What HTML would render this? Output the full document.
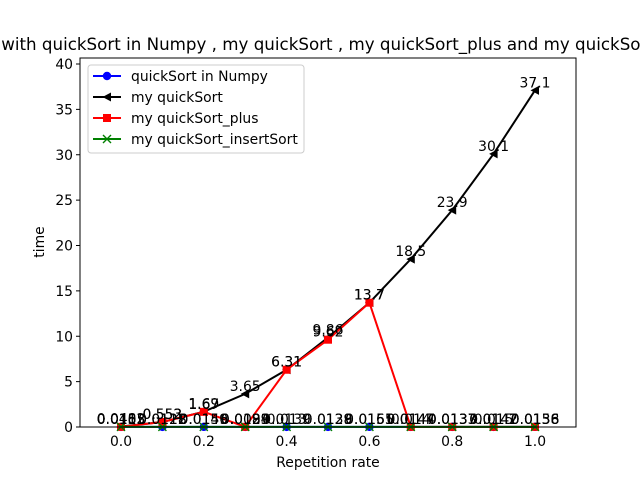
<!DOCTYPE html>
<html><head><meta charset="utf-8"><style>
body{margin:0;background:#fff;}
svg{display:block;font-family:"DejaVu Sans","Liberation Sans",sans-serif;}
</style></head><body>
<svg id="chart" width="640" height="480" viewBox="0 0 640 480" xmlns="http://www.w3.org/2000/svg">
<rect x="0" y="0" width="640" height="480" fill="#fff"/>
<text x="320" y="50" font-size="16.7" text-anchor="middle">Comparison with quickSort in Numpy , my quickSort , my quickSort_plus and my quickSort_insertSort</text>
<g id="plot"></g>
<rect x="80" y="58" width="496" height="369" fill="none" stroke="#000" stroke-width="1"/>
<text x="328" y="467" font-size="13.9" text-anchor="middle">Repetition rate</text>
<text x="0" y="0" font-size="13.9" text-anchor="middle" transform="translate(44,242) rotate(-90)">time</text>
<g>
<rect x="88" y="65" width="216" height="88" rx="3" fill="#fff" fill-opacity="0.8" stroke="#ccc"/>
<g id="legend-items"></g>
</g>
</svg>
<script>
const xs = [0.0,0.1,0.2,0.3,0.4,0.5,0.6,0.7,0.8,0.9,1.0];
const numpyVals = [0.0103,0.0112,0.0156,0.0099,0.0139,0.0129,0.0165,0.0144,0.0137,0.0142,0.0156];
const quickVals = [0.0482,0.552,1.69,3.65,6.31,9.86,13.7,18.5,23.9,30.1,37.1];
const plusVals = [0.0153,0.553,1.67,0.0184,6.31,9.62,13.7,0.0147,0.0137,0.0147,0.0136];
const insertVals = [0.0115,0.0128,0.0149,0.0123,0.0130,0.0138,0.0151,0.0140,0.0133,0.0150,0.0138];
const xTicks = [0.0,0.2,0.4,0.6,0.8,1.0];
const xTickLabels = ["0.0","0.2","0.4","0.6","0.8","1.0"];
const yTicks = [0,5,10,15,20,25,30,35,40];
const yTickLabels = ["0","5","10","15","20","25","30","35","40"];
const seriesNames = ["quickSort in Numpy","my quickSort","my quickSort_plus","my quickSort_insertSort"];

const NS="http://www.w3.org/2000/svg";
function X(v){return 121+(v-0)*414;}
function Y(v){return 427-v*9.075;}
const plot=document.getElementById('plot');
function mk(tag,attrs,parent){const e=document.createElementNS(NS,tag);for(const k in attrs)e.setAttribute(k,attrs[k]);(parent||plot).appendChild(e);return e;}
function fmt(v){return String(Number(v.toPrecision(3)));}

xTicks.forEach((t,i)=>{
  const l=mk('line',{x1:X(t),x2:X(t),y1:427,y2:431,stroke:'#000'});
  
  
  const tx=mk('text',{x:X(t),y:446,'font-size':13.9,'text-anchor':'middle'});
  tx.textContent=xTickLabels[i];
  
  
});
yTicks.forEach((t,i)=>{
  const l=mk('line',{x1:76,x2:80,y1:Y(t),y2:Y(t),stroke:'#000'});
  
  
  const tx=mk('text',{x:73,y:Y(t)+5,'font-size':13.9,'text-anchor':'end'});
  tx.textContent=yTickLabels[i];
  
  
});

function marker(type,x,y,color,g){
  if(type==='o') return mk('circle',{cx:x,cy:y,r:4.2,fill:color},g);
  if(type==='<') return mk('polygon',{points:`${x-4.5},${y} ${x+4},${y-4.5} ${x+4},${y+4.5}`,fill:color},g);
  if(type==='s') return mk('rect',{x:x-4,y:y-4,width:8,height:8,fill:color},g);
  if(type==='x'){return mk('path',{d:`M${x-4},${y-4}L${x+4},${y+4}M${x-4},${y+4}L${x+4},${y-4}`,stroke:color,'stroke-width':1.4,fill:'none'},g);}
}
const series=[[numpyVals,'blue','o','series-numpy'],[quickVals,'black','<','series-my-quicksort'],[plusVals,'red','s','series-quicksort-plus'],[insertVals,'green','x','series-quicksort-insertsort']];
series.forEach(([vals,color,m,name])=>{
  const g=mk('g',{});
  
  
  const pl=mk('polyline',{points:vals.map((v,i)=>X(xs[i])+','+Y(v)).join(' '),fill:'none',stroke:color,'stroke-width':2},g);
  
  
  vals.forEach((v,i)=>{
    const p=marker(m,X(xs[i]),Y(v),color,g);
    
    
  });
});
series.forEach(([vals])=>{
  vals.forEach((v,i)=>{
    const t=mk('text',{x:X(xs[i]),y:Y(v)-3,'font-size':13.9,'text-anchor':'middle'});
    t.textContent=fmt(v);
    
    
  });
});

const lg=document.getElementById('legend-items');
series.forEach(([vals,color,m],i)=>{
  const y=76+i*21;
  const g=mk('g',{},lg);
  
  
  mk('line',{x1:93,x2:121,y1:y,y2:y,stroke:color,'stroke-width':2},g);
  marker(m,107,y,color,g);
  const t=mk('text',{x:131,y:y+5,'font-size':13.9},g);
  t.textContent=seriesNames[i];
});
</script>
</body></html>
